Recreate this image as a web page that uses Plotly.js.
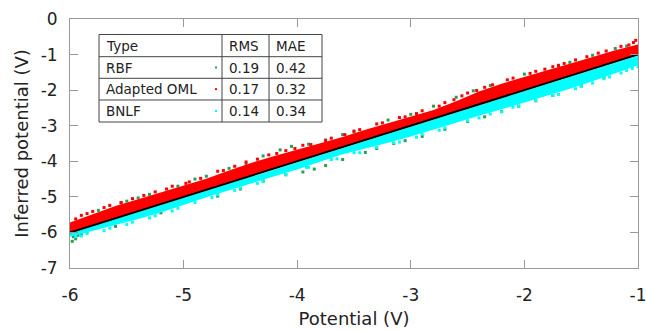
<!DOCTYPE html>
<html>
<head>
<meta charset="utf-8">
<script src="https://cdn.plot.ly/plotly-3.0.1.min.js"></script>
<style>html,body{margin:0;padding:0;background:#fff;}#chart{width:646px;height:331px;}</style>
</head>
<body>
<div id="chart"></div>
<script>
// ---- data ----
var xTickVals = [-6, -5, -4, -3, -2, -1];
var xTickText = ['-6', '-5', '-4', '-3', '-2', '-1'];
var yTickVals = [-7, -6, -5, -4, -3, -2, -1, 0];
var yTickText = ['-7', '-6', '-5', '-4', '-3', '-2', '-1', '0'];

var tableHeader = ['Type', 'RMS', 'MAE'];
var seriesNames = ['RBF', 'Adapted OML', 'BNLF'];
var rmsValues = ['0.19', '0.17', '0.14'];
var maeValues = ['0.42', '0.32', '0.34'];

// band sample positions
var bandX = [-6.0, -5.8, -5.6, -5.4, -5.2, -5.0, -4.8, -4.6, -4.4, -4.2, -4.0, -3.8, -3.6,
             -3.4, -3.2, -3.0, -2.8, -2.6, -2.4, -2.2, -2.0, -1.8, -1.6, -1.4, -1.2, -1.0];
// Adapted OML (red) dense core
var omlUpper = [-5.72, -5.48, -5.26, -5.07, -4.88, -4.70, -4.49, -4.26, -4.04, -3.85, -3.68, -3.51, -3.32,
                -3.11, -2.92, -2.75, -2.56, -2.31, -2.04, -1.82, -1.62, -1.44, -1.26, -1.07, -0.88, -0.72];
var omlLower = [-6.01, -5.81, -5.61, -5.41, -5.21, -5.01, -4.81, -4.61, -4.41, -4.21, -4.01, -3.81, -3.61,
                -3.41, -3.21, -3.01, -2.81, -2.61, -2.41, -2.21, -2.01, -1.81, -1.61, -1.41, -1.21, -1.01];
// BNLF (cyan) dense core
var bnlfUpper = [-6.03, -5.83, -5.63, -5.43, -5.23, -5.03, -4.83, -4.63, -4.43, -4.23, -4.03, -3.83, -3.63,
                 -3.43, -3.23, -3.03, -2.83, -2.63, -2.43, -2.23, -2.03, -1.83, -1.63, -1.43, -1.23, -1.03];
var bnlfLower = [-6.12, -5.96, -5.79, -5.62, -5.44, -5.23, -5.01, -4.80, -4.61, -4.42, -4.23, -4.01, -3.80,
                 -3.64, -3.48, -3.30, -3.11, -2.92, -2.72, -2.54, -2.35, -2.16, -1.96, -1.75, -1.53, -1.30];

// scattered points
var rbfX = [-5.98, -5.97, -5.95, -5.93, -5.90, -5.96, -5.85, -5.55, -5.50, -5.30, -4.90, -4.60, -4.30, -4.15,
            -4.05, -3.90, -3.75, -3.60, -3.50, -3.00, -2.60, -2.45, -2.30, -2.00, -1.70, -1.40, -1.10,
            -4.30, -4.10, -3.95, -3.85, -3.75, -3.60, -3.40, -3.30, -3.15, -3.05, -2.90, -2.70, -2.50,
            -2.35, -2.20, -2.05, -1.90, -1.75, -1.50, -1.30, -1.05, -5.60, -5.20, -4.70, -4.50,
            -5.75, -5.40, -5.05, -4.80, -4.45, -3.20, -2.80, -1.60, -1.20];
var rbfY = [-6.25, -6.12, -6.18, -6.08, -6.05, -5.75, -5.98, -5.17, -5.12, -4.93, -4.50, -4.20, -3.85, -3.68,
            -3.58, -3.52, -3.40, -3.25, -3.18, -2.68, -2.20, -2.02, -1.87, -1.55, -1.30, -1.02, -0.76,
            -4.55, -4.38, -4.30, -4.22, -4.12, -3.95, -3.75, -3.64, -3.50, -3.42, -3.30, -3.10, -2.88,
            -2.75, -2.60, -2.45, -2.30, -2.15, -1.87, -1.65, -1.30, -5.83, -5.45, -4.98, -4.78,
            -5.38, -5.03, -4.70, -4.42, -4.08, -2.84, -2.45, -1.22, -0.83];
var omlX = [-5.90, -5.70, -5.45, -5.10, -4.70, -4.45, -4.25, -3.95, -3.70, -3.30, -3.10, -2.90, -2.70,
            -2.50, -2.15, -1.90, -1.65, -1.35, -1.15, -1.02, -5.80, -5.25, -4.95, -4.10, -3.50, -2.35, -1.75,
            -5.95, -5.85, -5.65, -5.55, -5.35, -5.15, -4.98, -4.85, -4.65, -4.55, -4.35, -4.18, -4.02,
            -3.88, -3.75, -3.58, -3.45, -3.25, -3.05, -2.95, -2.75, -2.62, -2.55, -2.42, -2.28, -2.10,
            -1.95, -1.82, -1.70, -1.55, -1.45, -1.28, -1.08, -1.04];
var omlY = [-5.52, -5.30, -5.05, -4.70, -4.28, -4.02, -3.82, -3.55, -3.35, -2.95, -2.77, -2.58, -2.35,
            -2.08, -1.71, -1.47, -1.25, -0.96, -0.77, -0.60, -5.41, -4.86, -4.58, -3.70, -3.15, -1.92, -1.34,
            -5.62, -5.47, -5.24, -5.16, -4.96, -4.78, -4.62, -4.48, -4.26, -4.14, -3.94, -3.78, -3.64,
            -3.53, -3.42, -3.25, -3.11, -2.92, -2.75, -2.66, -2.45, -2.27, -2.16, -2.01, -1.85, -1.66,
            -1.53, -1.41, -1.31, -1.15, -1.06, -0.90, -0.73, -0.66];
var bnlfX = [-5.90, -5.50, -5.10, -4.75, -4.35, -3.90, -3.45, -3.10, -2.75, -2.40, -2.05, -1.70, -1.40,
             -1.10, -1.00, -5.70, -5.30, -4.55, -3.65, -2.95, -2.20, -1.55, -1.25,
             -5.95, -5.85, -5.65, -5.45, -5.25, -5.05, -4.90, -4.70, -4.50, -4.30, -4.10, -3.92, -3.70,
             -3.50, -3.30, -3.15, -2.90, -2.70, -2.50, -2.30, -2.10, -1.90, -1.75, -1.50, -1.30, -1.15, -1.05];
var bnlfY = [-6.10, -5.78, -5.40, -5.02, -4.62, -4.17, -3.76, -3.46, -3.13, -2.78, -2.45, -2.12, -1.80,
             -1.45, -1.34, -5.95, -5.59, -4.82, -3.93, -3.32, -2.61, -1.96, -1.63,
             -6.12, -6.03, -5.88, -5.71, -5.53, -5.32, -5.16, -4.94, -4.75, -4.57, -4.37, -4.17, -3.95,
             -3.76, -3.61, -3.48, -3.24, -3.06, -2.86, -2.67, -2.48, -2.29, -2.15, -1.90, -1.68, -1.52, -1.39];

var refX = [-6, -1];
var refY = [-6, -1];

// ---- build ----
var cRBF = '#2e9b57', cOML = '#ff0000', cBNLF = '#00ffff';

function band(upper, lower, color) {
  var xs = bandX.concat(bandX.slice().reverse());
  var ys = upper.concat(lower.slice().reverse());
  return {x: xs, y: ys, mode: 'lines', fill: 'toself', fillcolor: color,
          line: {width: 0, color: color}, hoverinfo: 'skip', showlegend: false};
}
function pts(xs, ys, color) {
  return {x: xs, y: ys, mode: 'markers', type: 'scatter', showlegend: false,
          marker: {symbol: 'square', size: 3, color: color, line: {width: 0}}};
}

var traces = [
  pts(rbfX, rbfY, cRBF),
  band(omlUpper, omlLower, cOML),
  pts(omlX, omlY, cOML),
  band(bnlfUpper, bnlfLower, cBNLF),
  pts(bnlfX, bnlfY, cBNLF),
  {x: refX, y: refY, mode: 'lines', line: {color: '#000', width: 2}, showlegend: false}
];

// legend table (paper coordinates)
var L = 0.0511, R = 0.4437, C1 = 0.2676, C2 = 0.3504;
var rowEdges = [0.9378, 0.8486, 0.7618, 0.6747, 0.5863];
var rowMid = [0.8932, 0.8052, 0.7183, 0.6305];
var tc = '#444';
var shapes = [
  {type: 'rect', xref: 'paper', yref: 'paper', x0: L, x1: R, y0: rowEdges[4], y1: rowEdges[0],
   line: {color: tc, width: 1}, fillcolor: '#fff'}
];
[1, 2, 3].forEach(function (i) {
  shapes.push({type: 'line', xref: 'paper', yref: 'paper', x0: L, x1: R, y0: rowEdges[i], y1: rowEdges[i],
               line: {color: tc, width: 1}});
});
[C1, C2].forEach(function (c) {
  shapes.push({type: 'line', xref: 'paper', yref: 'paper', x0: c, x1: c, y0: rowEdges[4], y1: rowEdges[0],
               line: {color: tc, width: 1}});
});
var colors = [cRBF, cOML, cBNLF];
var annFont = {family: 'DejaVu Sans', size: 13.5, color: '#222'};
var annotations = [];
function ann(txt, x, y) {
  annotations.push({text: txt, xref: 'paper', yref: 'paper', x: x, y: y, xanchor: 'left', yanchor: 'middle',
                    showarrow: false, font: annFont});
}
ann(tableHeader[0], 0.0600, rowMid[0]);
ann(tableHeader[1], 0.2760, rowMid[0]);
ann(tableHeader[2], 0.3590, rowMid[0]);
for (var i = 0; i < 3; i++) {
  ann(seriesNames[i], 0.0600, rowMid[i + 1]);
  ann(rmsValues[i], 0.2760, rowMid[i + 1]);
  ann(maeValues[i], 0.3590, rowMid[i + 1]);
  shapes.push({type: 'rect', xref: 'paper', yref: 'paper', x0: 0.2552, x1: 0.2588,
               y0: rowMid[i + 1] - 0.004, y1: rowMid[i + 1] + 0.004,
               line: {width: 0}, fillcolor: colors[i]});
}

var tickFont = {family: 'DejaVu Sans', size: 17, color: '#222'};
var titleFont = {family: 'DejaVu Sans', size: 18, color: '#222'};
var layout = {
  width: 646, height: 331,
  margin: {l: 70, r: 8, t: 19, b: 63, pad: 0},
  paper_bgcolor: '#fff', plot_bgcolor: '#fff',
  showlegend: false,
  xaxis: {range: [-6, -1], tickvals: xTickVals, ticktext: xTickText, ticks: 'inside', ticklen: 8,
          tickcolor: '#999', showline: true, linecolor: '#999', linewidth: 1, mirror: 'ticks',
          showgrid: false, zeroline: false, tickfont: tickFont, ticklabelstandoff: 12,
          ticklabeloverflow: 'allow',
          title: {text: 'Potential (V)', font: titleFont, standoff: 7}},
  yaxis: {range: [-7, 0], tickvals: yTickVals, ticktext: yTickText, ticks: 'inside', ticklen: 8,
          tickcolor: '#999', showline: true, linecolor: '#999', linewidth: 1, mirror: 'ticks',
          showgrid: false, zeroline: false, tickfont: tickFont, ticklabelstandoff: 8,
          ticklabeloverflow: 'allow',
          title: {text: 'Inferred potential (V)', font: titleFont, standoff: 7}},
  shapes: shapes,
  annotations: annotations,
  font: {family: 'DejaVu Sans'}
};

Plotly.newPlot('chart', traces, layout, {staticPlot: true, displayModeBar: false});
</script>
</body>
</html>
